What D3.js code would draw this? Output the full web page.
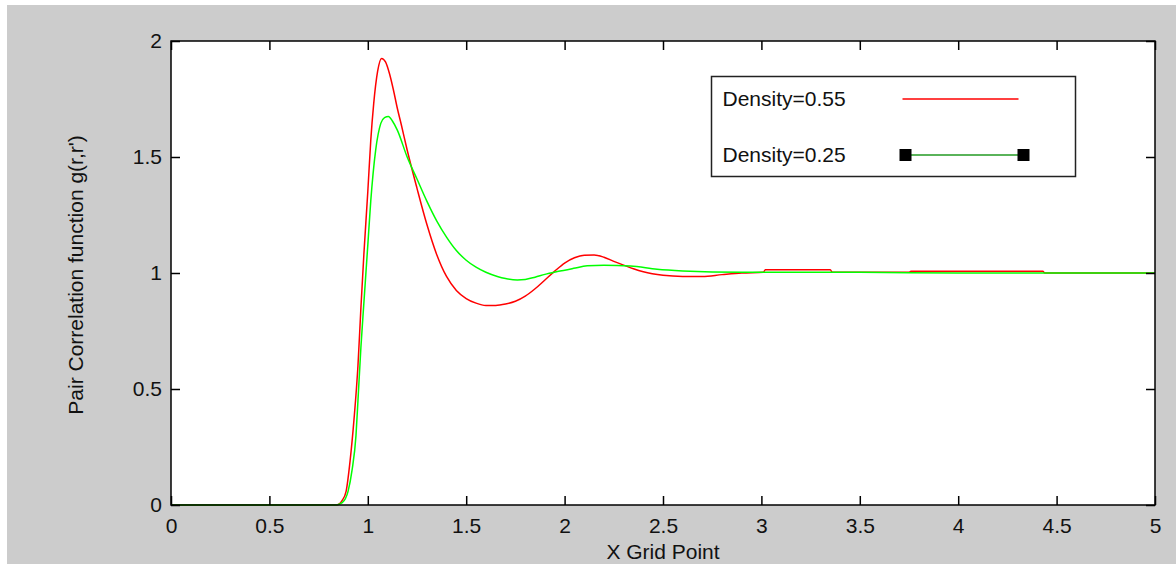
<!DOCTYPE html>
<html>
<head>
<meta charset="utf-8">
<script src="https://cdn.jsdelivr.net/npm/d3@7"></script>
<style>
  body { margin: 0; background: #ffffff; }
  svg { display: block; }
</style>
</head>
<body>
<script>
// data
var redX = [0, 0.84, 0.87, 0.89, 0.91, 0.93, 0.95, 0.965, 0.98, 1.0, 1.015, 1.03, 1.05, 1.07, 1.09, 1.11, 1.13, 1.15, 1.17,
            1.2, 1.25, 1.3, 1.35, 1.4, 1.45, 1.5, 1.55, 1.6, 1.65, 1.7, 1.75, 1.8, 1.85, 1.9, 1.95, 2.0, 2.05, 2.1, 2.15,
            2.2, 2.25, 2.3, 2.35, 2.4, 2.5, 2.6, 2.7, 2.8, 2.9, 3.01, 3.02, 3.35, 3.36, 3.75, 3.76, 4.43, 4.44, 5.0];
var redY = [0, 0, 0.02, 0.06, 0.19, 0.37, 0.6, 0.85, 1.08, 1.35, 1.57, 1.73, 1.87, 1.925, 1.91, 1.86, 1.79, 1.71, 1.64,
            1.53, 1.365, 1.21, 1.08, 0.985, 0.925, 0.89, 0.87, 0.86, 0.86, 0.866, 0.878, 0.9, 0.932, 0.97, 1.008, 1.043, 1.066, 1.077, 1.078,
            1.068, 1.05, 1.034, 1.018, 1.005, 0.99, 0.985, 0.985, 0.993, 1.0, 1.003, 1.014, 1.014, 1.003, 1.003, 1.008, 1.008, 1.0, 1.0];

var greenX = [0, 0.84, 0.87, 0.9, 0.92, 0.94, 0.95, 0.965, 0.98, 1.0, 1.015, 1.04, 1.066, 1.085, 1.105, 1.125, 1.15, 1.2,
              1.25, 1.3, 1.35, 1.4, 1.45, 1.5, 1.55, 1.6, 1.658, 1.7, 1.76, 1.8, 1.85, 1.9, 1.963, 2.046, 2.115, 2.2,
              2.335, 2.47, 2.6, 2.9, 3.5, 4.0, 5.0];
var greenY = [0, 0, 0.01, 0.06, 0.15, 0.3, 0.45, 0.68, 0.87, 1.12, 1.31, 1.53, 1.645, 1.67, 1.675, 1.655, 1.616, 1.5,
              1.405, 1.31, 1.225, 1.155, 1.097, 1.055, 1.025, 1.003, 0.985, 0.976, 0.97, 0.972, 0.982, 0.994, 1.006, 1.02, 1.031, 1.033,
              1.03, 1.016, 1.009, 1.003, 1.003, 1.0, 1.0];

var xTicks = [0, 0.5, 1, 1.5, 2, 2.5, 3, 3.5, 4, 4.5, 5];
var yTicks = [0, 0.5, 1, 1.5, 2];
var legendLabels = ["Density=0.55", "Density=0.25"];

// set the dimensions and margins of the graph
var margin = {top: 41, right: 21, bottom: 59, left: 171},
    width = 1176 - margin.left - margin.right,
    height = 564 - margin.top - margin.bottom;

var font = "'Liberation Sans', Arial, sans-serif";

var root = d3.select("body")
  .append("svg")
    .attr("width", 1176)
    .attr("height", 564);

// grey figure background (white strip on the left and top)
root.append("rect")
    .attr("x", 7).attr("y", 5)
    .attr("width", 1176 - 7).attr("height", 564 - 5)
    .attr("fill", "#cccccc");

var svg = root.append("g")
    .attr("transform", "translate(" + margin.left + "," + margin.top + ")");

svg.append("rect")
    .attr("width", width).attr("height", height)
    .attr("fill", "#ffffff");

var x = d3.scaleLinear().domain([0, 5]).range([0, width]);
var y = d3.scaleLinear().domain([0, 2]).range([height, 0]);

// curves
var line = d3.line()
    .x(function (d) { return x(d[0]); })
    .y(function (d) { return y(d[1]); })
    .curve(d3.curveMonotoneX);

svg.append("path")
    .datum(d3.zip(redX, redY))
    .attr("fill", "none")
    .attr("stroke", "#ff0000")
    .attr("stroke-width", 1.5)
    .attr("d", line);

svg.append("path")
    .datum(d3.zip(greenX, greenY))
    .attr("fill", "none")
    .attr("stroke", "#00ff00")
    .attr("stroke-width", 1.5)
    .attr("d", line);

// X axis (bottom + mirrored top)
svg.append("g")
    .attr("transform", "translate(0," + height + ")")
    .call(d3.axisBottom(x).tickValues(xTicks).tickFormat(d3.format("~g"))
      .tickSizeInner(-9).tickSizeOuter(0).tickPadding(13));
svg.append("g")
    .call(d3.axisTop(x).tickValues(xTicks).tickFormat("")
      .tickSizeInner(-9).tickSizeOuter(0));

// Y axis (left + mirrored right)
svg.append("g")
    .call(d3.axisLeft(y).tickValues(yTicks).tickFormat(d3.format("~g"))
      .tickSizeInner(-9).tickSizeOuter(0).tickPadding(9));
svg.append("g")
    .attr("transform", "translate(" + width + ",0)")
    .call(d3.axisRight(y).tickValues(yTicks).tickFormat("")
      .tickSizeInner(-9).tickSizeOuter(0));

svg.selectAll(".domain").remove();
svg.selectAll(".tick line").attr("stroke", "#000").attr("stroke-width", 1.5);
svg.selectAll(".tick text")
    .attr("font-family", font)
    .attr("font-size", 21)
    .attr("fill", "#111");

// frame
svg.append("rect")
    .attr("width", width).attr("height", height)
    .attr("fill", "none")
    .attr("stroke", "#000")
    .attr("stroke-width", 1.5);

// axis titles
svg.append("text")
    .attr("x", width / 2)
    .attr("y", height + 54)
    .attr("text-anchor", "middle")
    .attr("font-family", font)
    .attr("font-size", 21)
    .attr("fill", "#111")
    .text("X Grid Point");

svg.append("text")
    .attr("transform", "translate(" + (-88) + "," + (height / 2 + 2) + ") rotate(-90)")
    .attr("text-anchor", "middle")
    .attr("font-family", font)
    .attr("font-size", 21)
    .attr("fill", "#111")
    .text("Pair Correlation function g(r,r')");

// legend
var lg = root.append("g").attr("transform", "translate(711.5,76.5)");
lg.append("rect")
    .attr("width", 364).attr("height", 100)
    .attr("fill", "#ffffff")
    .attr("stroke", "#222")
    .attr("stroke-width", 1.5);

lg.selectAll("text.lab")
  .data(legendLabels)
  .enter()
  .append("text")
    .attr("class", "lab")
    .attr("x", 11)
    .attr("y", function (d, i) { return 22.5 + i * 56; })
    .attr("dy", "0.35em")
    .attr("font-family", font)
    .attr("font-size", 21)
    .attr("fill", "#111")
    .text(function (d) { return d; });

lg.append("line")
    .attr("x1", 191).attr("x2", 307)
    .attr("y1", 22.5).attr("y2", 22.5)
    .attr("stroke", "#ff0000").attr("stroke-width", 1.5);

lg.append("line")
    .attr("x1", 194).attr("x2", 312)
    .attr("y1", 78.5).attr("y2", 78.5)
    .attr("stroke", "#239a23").attr("stroke-width", 1.5);

lg.selectAll("rect.mk")
  .data([194, 312])
  .enter()
  .append("rect")
    .attr("class", "mk")
    .attr("x", function (d) { return d - 6; })
    .attr("y", 78.5 - 6)
    .attr("width", 12).attr("height", 12)
    .attr("fill", "#000");
</script>
</body>
</html>
